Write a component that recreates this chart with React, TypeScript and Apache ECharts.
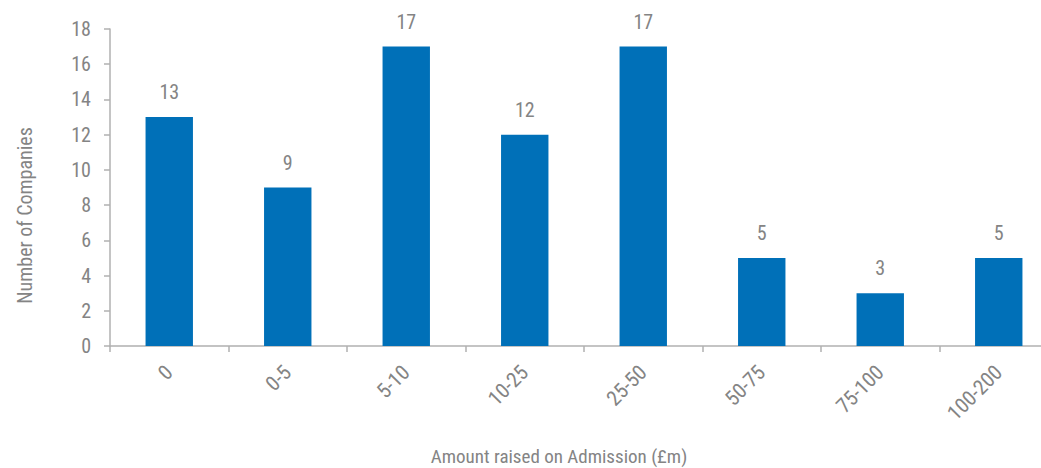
import React, { useEffect, useRef } from "react";
import * as echarts from "echarts";

const categories = ["0", "0-5", "5-10", "10-25", "25-50", "50-75", "75-100", "100-200"];
const companies = [13, 9, 17, 12, 17, 5, 3, 5];
const yTicks = { min: 0, max: 18, interval: 2 };

const FONT = "'Roboto Condensed', 'DejaVu Sans Condensed', sans-serif";
const GRAY = "#848484";
const AXIS = "#b0b0b0";

export default function App() {
  const ref = useRef<HTMLDivElement>(null);
  useEffect(() => {
    const chart = echarts.init(ref.current!, null, { renderer: "svg" });
    chart.setOption({
      animation: false,
      textStyle: { fontFamily: FONT },
      grid: { left: 110, right: 2, top: 29, bottom: 122, containLabel: false, outerBoundsMode: "none" },
      xAxis: {
        type: "category",
        data: categories,
        name: "Amount raised on Admission (£m)",
        nameLocation: "middle",
        nameGap: 110,
        nameTextStyle: { color: GRAY, fontSize: 19, fontFamily: FONT, verticalAlign: "middle", padding: [0, 50, 0, 0] },
        axisLine: { lineStyle: { color: AXIS, width: 1.5 } },
        axisTick: { show: true, length: 6, lineStyle: { color: AXIS, width: 1.5 } },
        axisLabel: { rotate: 45, color: GRAY, fontSize: 21, fontFamily: FONT, margin: 23 },
      },
      yAxis: {
        type: "value",
        min: yTicks.min,
        max: yTicks.max,
        interval: yTicks.interval,
        name: "Number of Companies",
        nameLocation: "middle",
        nameGap: 85,
        nameTextStyle: { color: GRAY, fontSize: 20, fontFamily: FONT, verticalAlign: "middle", padding: [0, 56, 0, 0] },
        axisLine: { show: true, lineStyle: { color: AXIS, width: 1.5 } },
        axisTick: { show: true, length: 6, lineStyle: { color: AXIS, width: 1.5 } },
        splitLine: { show: false },
        axisLabel: { color: GRAY, fontSize: 20, fontFamily: FONT, margin: 19 },
      },
      series: [
        {
          type: "bar",
          data: companies,
          barWidth: "40%",
          itemStyle: { color: "#0070B8" },
          label: {
            show: true,
            position: "top",
            distance: 15,
            color: GRAY,
            fontSize: 20,
            fontFamily: FONT,
          },
        },
      ],
    });
    return () => chart.dispose();
  }, []);
  return (
    <div style={{ position: "absolute", left: 0, top: 0, width: 1041, height: 468, overflow: "hidden" }}>
      <div ref={ref} style={{ width: 1060, height: 468 }} />
    </div>
  );
}
